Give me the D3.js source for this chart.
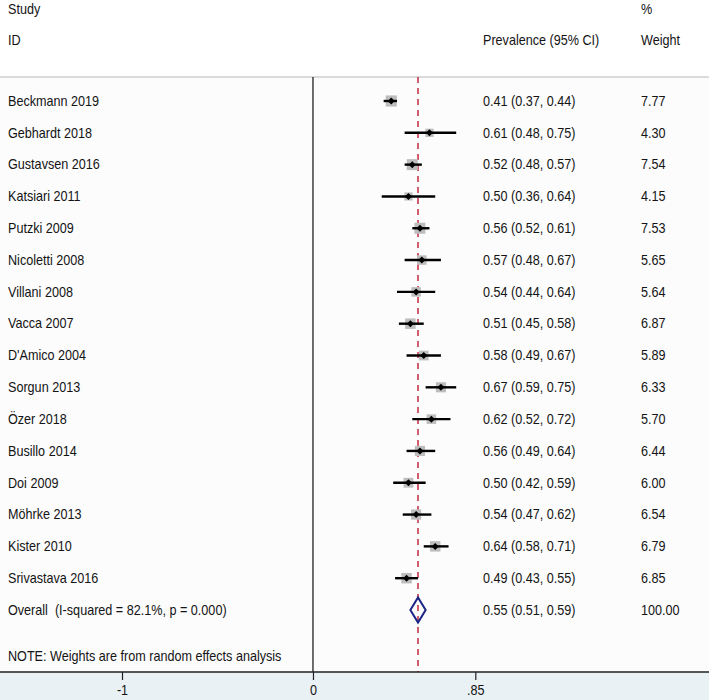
<!DOCTYPE html>
<html><head><meta charset="utf-8">
<script src="https://cdn.jsdelivr.net/npm/d3@7"></script>
<style>
html,body{margin:0;padding:0;background:#fff;}
svg text{font-family:"Liberation Sans",Arial,sans-serif;fill:#141414;white-space:pre;}
</style></head>
<body>
<svg id="c" width="709" height="700"></svg>
<script>
const studies = ["Beckmann 2019","Gebhardt 2018","Gustavsen 2016","Katsiari 2011","Putzki 2009","Nicoletti 2008","Villani 2008","Vacca 2007","D'Amico 2004","Sorgun 2013","Özer 2018","Busillo 2014","Doi 2009","Möhrke 2013","Kister 2010","Srivastava 2016"];
const est   = [0.41,0.61,0.52,0.50,0.56,0.57,0.54,0.51,0.58,0.67,0.62,0.56,0.50,0.54,0.64,0.49];
const lower = [0.37,0.48,0.48,0.36,0.52,0.48,0.44,0.45,0.49,0.59,0.52,0.49,0.42,0.47,0.58,0.43];
const upper = [0.44,0.75,0.57,0.64,0.61,0.67,0.64,0.58,0.67,0.75,0.72,0.64,0.59,0.62,0.71,0.55];
const weights = [7.77,4.30,7.54,4.15,7.53,5.65,5.64,6.87,5.89,6.33,5.70,6.44,6.00,6.54,6.79,6.85];
const overallLabel = "Overall  (I-squared = 82.1%, p = 0.000)";
const overall = {est:0.55, lower:0.51, upper:0.59, weight:"100.00"};
const tickValues = [-1, 0, 0.85];
const tickLabels = ["-1", "0", ".85"];
const noteText = "NOTE: Weights are from random effects analysis";

const svg = d3.select("#c");
const W = 709, H = 700;
const topLine = 77, axisY = 672;
const x = d3.scaleLinear().domain([-1, 0.85]).range([122, 475.3]);
const rows = studies.concat(["__overall"]);
const y = d3.scalePoint().domain(rows).range([101, 610]);
const fmt = d3.format(".2f");

// backgrounds
svg.append("rect").attr("x",0).attr("y",0).attr("width",W).attr("height",H).attr("fill","#ffffff");
svg.append("rect").attr("x",0).attr("y",topLine).attr("width",W).attr("height",axisY-topLine).attr("fill","#fcfcfc");
svg.append("rect").attr("x",0).attr("y",axisY).attr("width",W).attr("height",H-axisY).attr("fill","#e9f1f4");

const fs = 14.5, sx = 0.87;
function txt(t, tx, ty, anchor){
  return svg.append("text").attr("transform",`translate(${tx},${ty}) scale(${sx},1)`)
    .attr("font-size",fs).attr("text-anchor",anchor||"start")
    .attr("dominant-baseline","central").text(t);
}
// header
txt("Study", 8, 9);
txt("ID", 8, 40);
txt("%", 641, 9);
txt("Prevalence (95% CI)", 483, 40);
txt("Weight", 641, 40);

svg.append("line").attr("x1",0).attr("x2",W).attr("y1",topLine).attr("y2",topLine)
  .attr("stroke","#b8b8b8").attr("stroke-width",1.2);

// null line at 0
svg.append("line").attr("x1",x(0)).attr("x2",x(0)).attr("y1",topLine).attr("y2",axisY)
  .attr("stroke","#222").attr("stroke-width",1.3);

// overall dashed line
svg.append("line").attr("x1",x(overall.est)).attr("x2",x(overall.est)).attr("y1",topLine).attr("y2",axisY)
  .attr("stroke","#c52a3e").attr("stroke-width",1.5).attr("stroke-dasharray","6,5");

// study rows
const g = svg.append("g");
studies.forEach((s,i)=>{
  const cy = y(s);
  const side = 4.0*Math.sqrt(weights[i]);
  g.append("rect").attr("x",x(est[i])-side/2).attr("y",cy-side/2).attr("width",side).attr("height",side)
    .attr("fill","#bdbdbd");
  g.append("line").attr("x1",x(lower[i])).attr("x2",x(upper[i])).attr("y1",cy).attr("y2",cy)
    .attr("stroke","#000").attr("stroke-width",2.4);
  const cx = x(est[i]);
  g.append("path").attr("d",`M${cx-3.5},${cy}L${cx},${cy-3.5}L${cx+3.5},${cy}L${cx},${cy+3.5}Z`).attr("fill","#000");
  txt(s, 8, cy);
  txt(`${fmt(est[i])} (${fmt(lower[i])}, ${fmt(upper[i])})`, 483, cy);
  txt(fmt(weights[i]), 641, cy);
});

// overall
const oy = y("__overall");
svg.append("path")
  .attr("d",`M${x(overall.lower)},${oy}L${x(overall.est)},${oy-12.5}L${x(overall.upper)},${oy}L${x(overall.est)},${oy+12.5}Z`)
  .attr("fill","none").attr("stroke","#1a2585").attr("stroke-width",2);
txt(overallLabel, 8, oy);
txt(`${fmt(overall.est)} (${fmt(overall.lower)}, ${fmt(overall.upper)})`, 483, oy);
txt(overall.weight, 641, oy);

txt(noteText, 8, 656);

// axis
svg.append("line").attr("x1",0).attr("x2",W).attr("y1",axisY).attr("y2",axisY).attr("stroke","#222").attr("stroke-width",1.3);
const axis = d3.axisBottom(x).tickValues(tickValues).tickSize(8).tickFormat((d,i)=>tickLabels[i]);
const ag = svg.append("g").attr("transform",`translate(0,${axisY})`).call(axis);
ag.select(".domain").remove();
ag.selectAll(".tick line").attr("stroke","#222").attr("stroke-width",1.2);
ag.selectAll(".tick text").attr("font-size",fs).attr("y",13).attr("fill","#141414")
  .attr("font-family","Liberation Sans, Arial, sans-serif")
  .attr("transform",`scale(${sx},1)`).attr("x",0);
</script>
</body></html>
